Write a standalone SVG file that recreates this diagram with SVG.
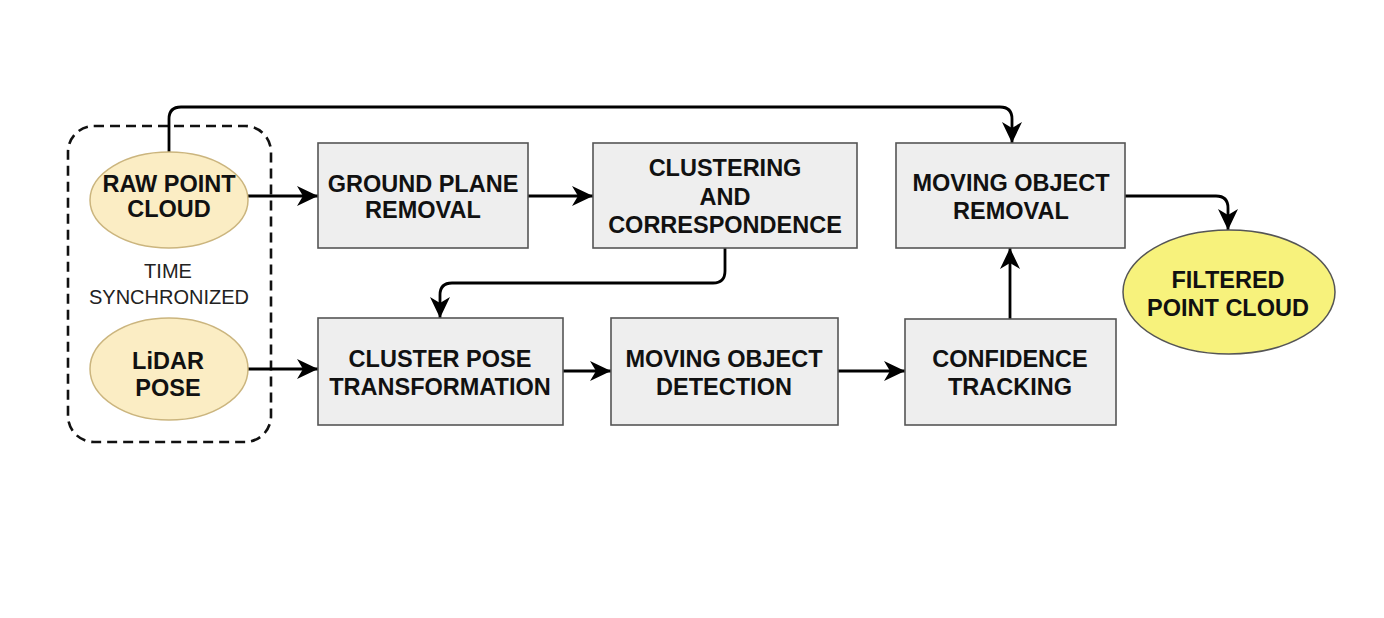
<svg xmlns="http://www.w3.org/2000/svg" width="1384" height="618" viewBox="0 0 1384 618">
<defs>
<style>
.box{fill:#eeeeee;stroke:#555555;stroke-width:1.6}
.src{fill:#fbedc4;stroke:#cbb57e;stroke-width:1.5}
.out{fill:#f7f27c;stroke:#555555;stroke-width:1.5}
.t{font-family:"Liberation Sans",Arial,sans-serif;font-weight:bold;font-size:23.5px;fill:#111;text-anchor:middle}
.s{font-family:"Liberation Sans",Arial,sans-serif;font-size:20px;fill:#222;text-anchor:middle}
.c{fill:none;stroke:#000;stroke-width:2.8;stroke-linejoin:round}
</style>
<marker id="ah" markerUnits="userSpaceOnUse" markerWidth="24" markerHeight="24" viewBox="0 0 24 24" refX="22" refY="12" orient="auto">
<path d="M1,2 L22,12 L1,22 L7,12 Z" fill="#000"/>
</marker>
</defs>
<rect width="1384" height="618" fill="#ffffff"/>
<g id="time-sync-group">
<rect x="68" y="126" width="203" height="316" rx="26" fill="none" stroke="#111" stroke-width="2.6" stroke-dasharray="10,6"/>
<text class="s" x="168" y="278">TIME</text>
<text class="s" x="169" y="304">SYNCHRONIZED</text>
</g>
<g id="connectors">
<path class="c" d="M169,152 V119 Q169,107 181,107 H1000 Q1012,107 1012,119 V143" marker-end="url(#ah)"/>
<path class="c" d="M248,196 H318" marker-end="url(#ah)"/>
<path class="c" d="M528,196 H593" marker-end="url(#ah)"/>
<path class="c" d="M725,248 V271 Q725,283 713,283 H452 Q440,283 440,295 V318" marker-end="url(#ah)"/>
<path class="c" d="M248,369 H318" marker-end="url(#ah)"/>
<path class="c" d="M563,371 H611" marker-end="url(#ah)"/>
<path class="c" d="M838,371 H905" marker-end="url(#ah)"/>
<path class="c" d="M1010,319 V248" marker-end="url(#ah)"/>
<path class="c" d="M1125,196 H1216 Q1228,196 1228,208 V230" marker-end="url(#ah)"/>
</g>
<g id="raw-point-cloud">
<ellipse class="src" cx="169" cy="200" rx="79" ry="48"/>
<text class="t" x="169" y="192">RAW POINT</text>
<text class="t" x="169" y="217">CLOUD</text>
</g>
<g id="lidar-pose">
<ellipse class="src" cx="169" cy="369" rx="79" ry="51"/>
<text class="t" x="168" y="369">LiDAR</text>
<text class="t" x="168" y="396">POSE</text>
</g>
<g id="ground-plane-removal">
<rect class="box" x="318" y="143" width="210" height="105"/>
<text class="t" x="423" y="192">GROUND PLANE</text>
<text class="t" x="423" y="218">REMOVAL</text>
</g>
<g id="clustering">
<rect class="box" x="593" y="143" width="264" height="105"/>
<text class="t" x="725" y="176">CLUSTERING</text>
<text class="t" x="725" y="205">AND</text>
<text class="t" x="725" y="233">CORRESPONDENCE</text>
</g>
<g id="moving-object-removal">
<rect class="box" x="896" y="143" width="229" height="105"/>
<text class="t" x="1011" y="191">MOVING OBJECT</text>
<text class="t" x="1011" y="219">REMOVAL</text>
</g>
<g id="filtered-point-cloud">
<ellipse class="out" cx="1229" cy="292" rx="106" ry="62"/>
<text class="t" x="1228" y="288">FILTERED</text>
<text class="t" x="1228" y="316">POINT CLOUD</text>
</g>
<g id="cluster-pose-transformation">
<rect class="box" x="318" y="318" width="245" height="107"/>
<text class="t" x="440" y="367">CLUSTER POSE</text>
<text class="t" x="440" y="395">TRANSFORMATION</text>
</g>
<g id="moving-object-detection">
<rect class="box" x="611" y="318" width="227" height="107"/>
<text class="t" x="724" y="367">MOVING OBJECT</text>
<text class="t" x="724" y="395">DETECTION</text>
</g>
<g id="confidence-tracking">
<rect class="box" x="905" y="319" width="211" height="106"/>
<text class="t" x="1010" y="367">CONFIDENCE</text>
<text class="t" x="1010" y="395">TRACKING</text>
</g>
</svg>
